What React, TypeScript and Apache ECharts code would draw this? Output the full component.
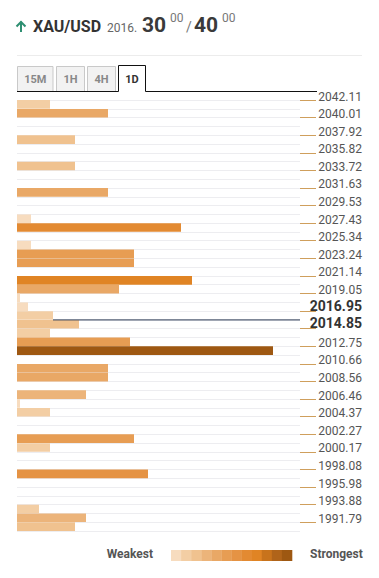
import React, { useEffect, useRef } from "react";
import * as echarts from "echarts";

// Price levels shown on the right axis (every second row boundary)
const levelLabels = [
  "2042.11", "2040.01", "2037.92", "2035.82", "2033.72", "2031.63", "2029.53",
  "2027.43", "2025.34", "2023.24", "2021.14", "2019.05", "2016.95", "2014.85",
  "2012.75", "2010.66", "2008.56", "2006.46", "2004.37", "2002.27", "2000.17",
  "1998.08", "1995.98", "1993.88", "1991.79",
];

// Confluence strength per price row (top row first)
const strength = [
  33, 91, 0, 0, 58, 0, 0, 58, 0, 0,
  91, 0, 0, 14, 164, 0, 14, 117, 117, 0,
  175, 102, 3, 11, 36, 62, 33, 113, 256, 0,
  91, 91, 0, 69, 3, 33, 0, 0, 117, 33,
  0, 0, 131, 0, 0, 0, 22, 69, 58,
];

const symbolName = "XAU/USD";
const bidPrice = 2016.3;
const askPrice = 2016.4;
const priceBase = "2016.";
const bidPips = "30";
const askPips = "40";
const pipettes = "00";
const tabs = ["15M", "1H", "4H", "1D"];
const activeTab = "1D";
const legendText = ["Weakest", "Strongest"];

const palette = [
  "#f7dcbf", "#f3cea4", "#f0c28f", "#ecb47a", "#e9a866", "#e79d53",
  "#e59344", "#e38a32", "#e08424", "#c8731c", "#b0641a", "#9e5812",
];

const X_MAX = 283;
const FONT = "Roboto";

export default function App() {
  const ref = useRef<HTMLDivElement>(null);

  useEffect(() => {
    document.body.style.margin = "0";
    const chart = echarts.init(ref.current!, undefined, { renderer: "svg" });

    const top = parseFloat(levelLabels[0]);
    const bottom = parseFloat(levelLabels[levelLabels.length - 1]);
    const rowStep = (top - bottom) / (2 * (levelLabels.length - 1));
    const mid = (bidPrice + askPrice) / 2;
    const currentRow = Math.floor((top - mid) / rowStep);
    const boldIdx = new Set<number>();
    levelLabels.forEach((l, i) => {
      const v = parseFloat(l);
      const next = levelLabels[i + 1] ? parseFloat(levelLabels[i + 1]) : -Infinity;
      const prev = i > 0 ? parseFloat(levelLabels[i - 1]) : Infinity;
      if (v >= askPrice && next < bidPrice) boldIdx.add(i);
      if (v <= bidPrice && prev > askPrice) boldIdx.add(i);
    });

    const boundaries = Array.from({ length: strength.length + 1 }, (_, i) => String(i));

    const tabX = [17.5, 56.5, 87.5, 118.5];
    const tabW = [35.5, 28, 28, 27];
    const graphic: any[] = [
      { type: "line", shape: { x1: 21, y1: 21.5, x2: 21, y2: 32 }, style: { stroke: "#2f8f72", lineWidth: 2 } },
      { type: "polyline", shape: { points: [[16.5, 26.5], [21, 22], [25.5, 26.5]] }, style: { stroke: "#2f8f72", lineWidth: 2, fill: null } },
      { type: "text", x: 33, y: 26, style: { text: symbolName, fontFamily: FONT, fontSize: 16, fontWeight: "bold", fill: "#333", verticalAlign: "middle" } },
      { type: "text", x: 107, y: 27.5, style: { text: priceBase, fontFamily: FONT, fontSize: 12, fill: "#666", verticalAlign: "middle" } },
      { type: "text", x: 142, y: 24.5, style: { text: bidPips, fontFamily: FONT, fontSize: 21, fontWeight: "bold", fill: "#3a3a3a", verticalAlign: "middle" } },
      { type: "text", x: 170, y: 17.5, style: { text: pipettes, fontFamily: FONT, fontSize: 12, fill: "#777", verticalAlign: "middle" } },
      { type: "text", x: 186, y: 27, style: { text: "/", fontFamily: FONT, fontSize: 14, fill: "#777", verticalAlign: "middle" } },
      { type: "text", x: 194, y: 24.5, style: { text: askPips, fontFamily: FONT, fontSize: 21, fontWeight: "bold", fill: "#3a3a3a", verticalAlign: "middle" } },
      { type: "text", x: 222, y: 17.5, style: { text: pipettes, fontFamily: FONT, fontSize: 12, fill: "#777", verticalAlign: "middle" } },
      { type: "line", shape: { x1: 17, y1: 55.5, x2: 362, y2: 55.5 }, style: { stroke: "#ececec", lineWidth: 1 } },
    ];
    tabs.forEach((t, i) => {
      const active = t === activeTab;
      if (active) {
        graphic.push({ type: "rect", shape: { x: tabX[i], y: 65.5, width: tabW[i], height: 26 }, style: { fill: "#fff" } });
        graphic.push({
          type: "polyline",
          shape: { points: [[tabX[i], 91.5], [tabX[i], 65.5], [tabX[i] + tabW[i], 65.5], [tabX[i] + tabW[i], 91.5]] },
          style: { stroke: "#111", lineWidth: 1, fill: null },
        });
      } else {
        graphic.push({ type: "rect", shape: { x: tabX[i], y: 66.5, width: tabW[i], height: 25 }, style: { fill: "#f2f2f2", stroke: "#c9c9c9", lineWidth: 1 } });
      }
      graphic.push({
        type: "text", x: tabX[i] + tabW[i] / 2, y: 79,
        style: { text: t, fontFamily: FONT, fontSize: 11, fontWeight: "bold", fill: active ? "#333" : "#888", align: "center", verticalAlign: "middle" },
      });
    });
    graphic.push({ type: "line", shape: { x1: 17, y1: 91.5, x2: tabX[3], y2: 91.5 }, style: { stroke: "#111", lineWidth: 1 } });
    graphic.push({ type: "line", shape: { x1: tabX[3] + tabW[3], y1: 91.5, x2: 317, y2: 91.5 }, style: { stroke: "#111", lineWidth: 1 } });

    // legend (colour scale)
    const lgX = 171;
    const lgW = 121 / palette.length;
    palette.forEach((c, i) => {
      graphic.push({ type: "rect", shape: { x: lgX + i * lgW, y: 550, width: lgW + 0.3, height: 11 }, style: { fill: c } });
    });
    graphic.push({ type: "text", x: 153, y: 553.5, style: { text: legendText[0], fontFamily: FONT, fontSize: 12, fontWeight: "bold", fill: "#555", align: "right", verticalAlign: "middle" } });
    graphic.push({ type: "text", x: 310, y: 553.5, style: { text: legendText[1], fontFamily: FONT, fontSize: 12, fontWeight: "bold", fill: "#555", align: "left", verticalAlign: "middle" } });

    chart.setOption({
      animation: false,
      textStyle: { fontFamily: FONT },
      grid: { left: 17, right: 79, top: 100, bottom: 47 },
      xAxis: { type: "value", min: 0, max: X_MAX, show: false },
      yAxis: [
        {
          type: "category",
          inverse: true,
          data: strength.map((_, i) => String(i)),
          boundaryGap: true,
          axisLine: { show: false },
          axisTick: { show: false },
          axisLabel: { show: false },
          splitLine: { show: true, interval: 0, lineStyle: { color: "#ededf0", width: 1 } },
        },
        {
          type: "category",
          inverse: true,
          position: "right",
          boundaryGap: false,
          data: boundaries,
          axisLine: { show: false },
          axisTick: { show: true, length: 16, interval: 1, lineStyle: { color: "#cf9f5c" } },
          axisLabel: {
            interval: 1,
            margin: 62,
            align: "right",
            formatter: (_v: string, idx: number) => {
              if (idx % 2) return "";
              const li = idx / 2;
              const lbl = levelLabels[li];
              if (!lbl) return "";
              return boldIdx.has(li) ? `{b|${lbl}}` : `{n|${lbl}}`;
            },
            rich: {
              n: { fontFamily: FONT, fontSize: 12, color: "#555", padding: [0, 0, 7, 0] },
              b: { fontFamily: FONT, fontSize: 14, fontWeight: "bold", color: "#333", padding: [0, 0, 11, 0] },
            },
          },
          splitLine: { show: false },
        },
      ],
      visualMap: {
        type: "piecewise",
        show: false,
        seriesIndex: 0,
        dimension: 0,
        min: 0,
        max: 260,
        splitNumber: 12,
        inRange: { color: palette },
      },
      graphic,
      series: [
        {
          type: "bar",
          yAxisIndex: 0,
          data: strength.map((v, i) => [v, i]),
          barCategoryGap: "2%",
          silent: true,
        },
        {
          type: "line",
          yAxisIndex: 1,
          clip: false,
          silent: true,
          z: 5,
          lineStyle: { color: "#2b3a55", width: 1 },
          itemStyle: { color: "#2b3a55" },
          data: [
            { value: [strength[currentRow], currentRow + 1], symbol: "none" },
            { value: [X_MAX, currentRow + 1], symbol: "triangle", symbolSize: [7, 5], symbolRotate: 90, symbolOffset: [-2, 0] },
          ],
        },
      ],
    });
    return () => chart.dispose();
  }, []);

  return <div ref={ref} style={{ width: 379, height: 578 }} />;
}
